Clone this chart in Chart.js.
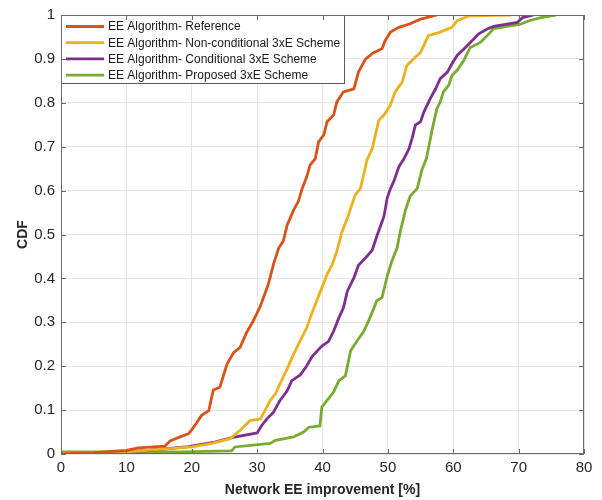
<!DOCTYPE html>
<html>
<head>
<meta charset="utf-8">
<script src="https://cdn.jsdelivr.net/npm/chart.js@4.4.1/dist/chart.umd.min.js"></script>
<style>
  html, body { margin: 0; padding: 0; background: #ffffff; }
  #wrap { width: 602px; height: 500px; position: relative; }
</style>
</head>
<body>
<div id="wrap"><canvas id="cdf"></canvas></div>
<script>
// series labels
const seriesNames = [
    'EE Algorithm- Reference',
    'EE Algorithm- Non-conditional 3xE Scheme',
    'EE Algorithm- Conditional 3xE Scheme',
    'EE Algorithm- Proposed 3xE Scheme'
];
const seriesColors = ['#D95319', '#EDB120', '#7E2F8E', '#77AC30'];

// x ticks / y ticks
const xTicks = [0, 10, 20, 30, 40, 50, 60, 70, 80];
const yTicks = [0, 0.1, 0.2, 0.3, 0.4, 0.5, 0.6, 0.7, 0.8, 0.9, 1];

// Reference
const refX = [0, 5, 10, 11.8, 15.9, 16.7, 18.2, 19.5, 20.3, 21.5, 22.6, 23.3, 24.3, 25.4, 26.4, 27.4, 28.4, 29.4, 30.5, 31.7, 32.5, 33.3, 34.0, 34.6, 35.6, 36.3, 36.9, 37.6, 38.1, 38.9, 39.4, 40.2, 40.7, 41.7, 42.2, 43.2, 44.8, 45.5, 46.6, 47.8, 49.1, 49.6, 50.4, 51.7, 53.4, 54.9, 57.5];
const refY = [0, 0.003, 0.008, 0.014, 0.018, 0.030, 0.039, 0.046, 0.061, 0.088, 0.099, 0.146, 0.152, 0.205, 0.231, 0.243, 0.277, 0.303, 0.337, 0.386, 0.432, 0.469, 0.485, 0.522, 0.556, 0.575, 0.605, 0.632, 0.658, 0.673, 0.711, 0.727, 0.757, 0.772, 0.802, 0.825, 0.832, 0.870, 0.900, 0.914, 0.923, 0.942, 0.961, 0.972, 0.980, 0.990, 1.0];

// Non-conditional 3xE
const nonX = [0, 10, 20, 23.1, 25.9, 27.4, 28.9, 30.5, 31.2, 32.0, 32.8, 33.5, 34.6, 35.6, 36.6, 37.6, 38.6, 39.7, 40.7, 41.5, 42.2, 43.0, 43.8, 44.5, 45.0, 45.8, 46.3, 46.8, 47.6, 48.1, 48.6, 49.4, 50.4, 51.1, 52.2, 52.9, 54.2, 55.0, 56.2, 58.0, 59.8, 60.6, 62.4, 68.8];
const nonY = [0.002, 0.005, 0.016, 0.024, 0.035, 0.054, 0.076, 0.080, 0.099, 0.122, 0.137, 0.160, 0.194, 0.228, 0.258, 0.288, 0.330, 0.371, 0.409, 0.432, 0.462, 0.507, 0.537, 0.568, 0.590, 0.605, 0.636, 0.669, 0.696, 0.727, 0.760, 0.772, 0.795, 0.825, 0.847, 0.885, 0.904, 0.915, 0.953, 0.961, 0.972, 0.987, 0.998, 1.0];

// Conditional 3xE
const condX = [0, 8, 13.4, 19.5, 23.5, 26.3, 30.0, 30.7, 31.5, 32.5, 33.5, 34.6, 35.3, 36.6, 37.6, 38.4, 39.2, 39.9, 40.9, 41.7, 42.5, 43.2, 43.8, 44.8, 45.5, 46.6, 47.6, 48.4, 49.4, 49.9, 50.4, 50.9, 51.7, 52.4, 53.2, 53.7, 54.2, 55.0, 55.5, 56.5, 57.3, 58.0, 59.1, 59.8, 60.6, 61.4, 62.4, 63.1, 63.9, 65.2, 66.2, 69.8, 70.6, 72.3];
const condY = [0.002, 0.004, 0.008, 0.017, 0.027, 0.038, 0.048, 0.065, 0.080, 0.095, 0.122, 0.144, 0.167, 0.180, 0.201, 0.222, 0.235, 0.246, 0.256, 0.280, 0.310, 0.333, 0.371, 0.401, 0.430, 0.447, 0.464, 0.500, 0.541, 0.583, 0.605, 0.621, 0.655, 0.671, 0.694, 0.719, 0.749, 0.757, 0.779, 0.810, 0.832, 0.855, 0.870, 0.889, 0.908, 0.919, 0.934, 0.945, 0.957, 0.968, 0.974, 0.983, 0.994, 1.0];

// Proposed 3xE
const propX = [0, 10, 18.2, 26.1, 26.6, 32.0, 32.8, 35.6, 37.1, 37.9, 39.6, 39.9, 40.7, 41.7, 42.5, 43.5, 44.3, 45.3, 46.3, 47.1, 47.8, 48.3, 49.1, 49.9, 50.6, 51.4, 51.9, 52.7, 53.4, 54.5, 55.2, 55.9, 56.8, 57.5, 58.0, 58.5, 59.3, 59.8, 60.6, 61.6, 62.6, 64.2, 65.2, 66.2, 70.3, 71.6, 73.4, 75.7];
const propY = [0.005, 0.005, 0.005, 0.007, 0.016, 0.024, 0.031, 0.039, 0.050, 0.061, 0.064, 0.107, 0.122, 0.141, 0.167, 0.178, 0.235, 0.258, 0.279, 0.305, 0.330, 0.349, 0.356, 0.405, 0.439, 0.469, 0.507, 0.556, 0.587, 0.605, 0.647, 0.673, 0.741, 0.787, 0.802, 0.825, 0.840, 0.862, 0.874, 0.896, 0.926, 0.938, 0.953, 0.969, 0.979, 0.987, 0.994, 1.0];

const seriesX = [refX, nonX, condX, propX];
const seriesY = [refY, nonY, condY, propY];

const FONT = '"Liberation Sans", Arial, Helvetica, sans-serif';
const AXIS_COLOR = '#6b6b6b';

// legend box drawn inside the axes, top-left, like the MATLAB figure
const insideLegend = {
    id: 'insideLegend',
    afterDatasetsDraw(chart) {
        const ctx = chart.ctx;
        const area = chart.chartArea;
        const x0 = area.left;
        const y0 = area.top;
        const w = 284;
        const h = 69;
        ctx.save();
        ctx.fillStyle = '#ffffff';
        ctx.fillRect(x0, y0, w, h);
        ctx.strokeStyle = '#5a5a5a';
        ctx.lineWidth = 1;
        ctx.strokeRect(x0 + 0.5, y0 + 0.5, w - 1, h - 1);
        ctx.font = '12px ' + FONT;
        ctx.textBaseline = 'middle';
        ctx.fillStyle = '#1a1a1a';
        chart.data.datasets.forEach(function(ds, i) {
            const yy = y0 + 11.5 + i * 16.2;
            ctx.strokeStyle = ds.borderColor;
            ctx.lineWidth = 2.8;
            ctx.beginPath();
            ctx.moveTo(x0 + 5, yy);
            ctx.lineTo(x0 + 43, yy);
            ctx.stroke();
            ctx.fillText(ds.label, x0 + 47, yy + 0.5);
        });
        ctx.restore();
    }
};

// box around the axes plus inward tick marks on all four sides
const axesBox = {
    id: 'axesBox',
    afterDraw(chart) {
        const ctx = chart.ctx;
        const a = chart.chartArea;
        const xs = chart.scales.x;
        const ys = chart.scales.y;
        ctx.save();
        ctx.strokeStyle = AXIS_COLOR;
        ctx.lineWidth = 1;
        ctx.strokeRect(Math.round(a.left) + 0.5, Math.round(a.top) + 0.5,
            Math.round(a.right - a.left) - 1, Math.round(a.bottom - a.top) - 1);
        ctx.beginPath();
        xTicks.forEach(function(v) {
            const px = Math.round(xs.getPixelForValue(v)) + 0.5;
            ctx.moveTo(px, a.bottom);
            ctx.lineTo(px, a.bottom - 5);
            ctx.moveTo(px, a.top);
            ctx.lineTo(px, a.top + 5);
        });
        yTicks.forEach(function(v) {
            const py = Math.round(ys.getPixelForValue(v)) + 0.5;
            ctx.moveTo(a.left, py);
            ctx.lineTo(a.left + 5, py);
            ctx.moveTo(a.right, py);
            ctx.lineTo(a.right - 5, py);
        });
        ctx.stroke();
        ctx.restore();
    }
};

function buildDatasets() {
    return seriesNames.map(function(name, i) {
        return {
            label: name,
            data: seriesX[i].map(function(x, j) { return { x: x, y: seriesY[i][j] }; }),
            borderColor: seriesColors[i],
            backgroundColor: seriesColors[i],
            borderWidth: 2.8,
            pointRadius: 0,
            showLine: true,
            tension: 0,
            fill: false
        };
    });
}

new Chart(document.getElementById('cdf'), {
    type: 'scatter',
    data: { datasets: buildDatasets() },
    plugins: [insideLegend, axesBox],
    options: {
        responsive: true,
        maintainAspectRatio: false,
        animation: false,
        devicePixelRatio: 1,
        layout: { padding: { left: 0, right: 18, top: 12, bottom: 0 } },
        plugins: {
            legend: { display: false },
            tooltip: { enabled: false }
        },
        scales: {
            x: {
                type: 'linear',
                min: 0,
                max: 80,
                afterFit: function(scale) { scale.height = 46; },
                afterBuildTicks: function(scale) {
                    scale.ticks = xTicks.map(function(v) { return { value: v }; });
                },
                ticks: {
                    color: '#262626',
                    padding: 5,
                    maxRotation: 0,
                    font: { family: FONT, size: 15 }
                },
                grid: { color: '#e6e6e6', drawTicks: false },
                border: { display: false },
                title: {
                    display: true,
                    text: 'Network EE improvement [%]',
                    color: '#262626',
                    font: { family: FONT, size: 14, weight: 'bold' },
                    padding: { top: 0, bottom: 1 }
                }
            },
            y: {
                type: 'linear',
                min: 0,
                max: 1,
                afterFit: function(scale) { scale.width = 61; },
                afterBuildTicks: function(scale) {
                    scale.ticks = yTicks.map(function(v) { return { value: v }; });
                },
                ticks: {
                    color: '#262626',
                    padding: 6,
                    font: { family: FONT, size: 15 },
                    callback: function(v) { return String(Math.round(v * 10) / 10); }
                },
                grid: { color: '#e6e6e6', drawTicks: false },
                border: { display: false },
                title: {
                    display: true,
                    text: 'CDF',
                    color: '#262626',
                    font: { family: FONT, size: 14, weight: 'bold' },
                    padding: { top: 15, bottom: 0 }
                }
            }
        }
    }
});
</script>
</body>
</html>
